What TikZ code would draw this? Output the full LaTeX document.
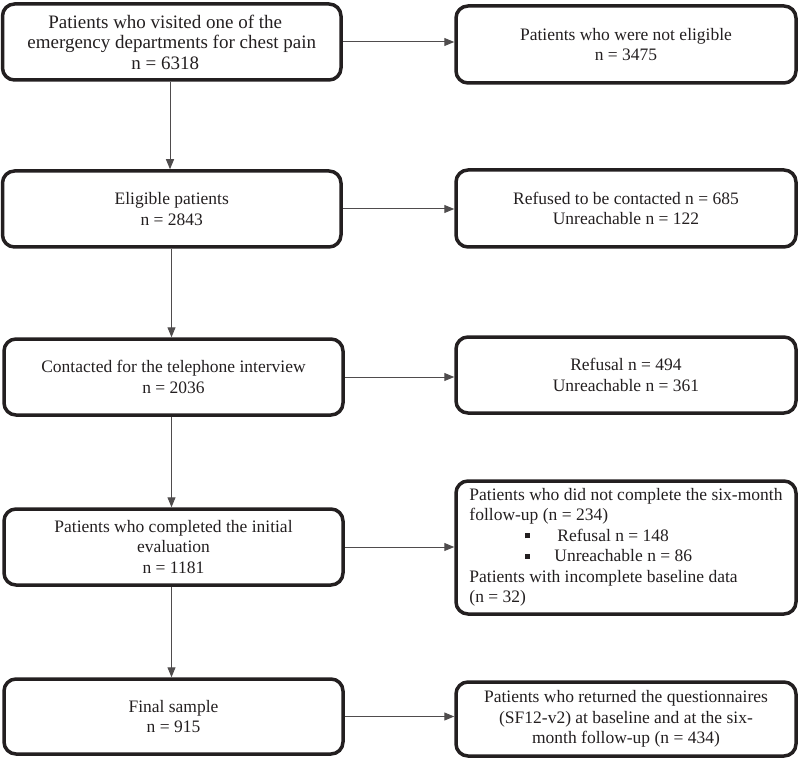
\documentclass[tikz,border=0pt]{standalone}
\usepackage{fontspec}
\setmainfont{Liberation Serif}
\usetikzlibrary{arrows.meta}
\definecolor{ink}{RGB}{35,31,32}
\tikzset{
  boxnode/.style={draw=ink, line width=3.5pt, rounded corners=12pt, align=center,
    inner sep=2pt, font=\fontsize{17.5}{20.5}\selectfont, text=ink},
  flowarrow/.style={draw=ink!80, line width=1pt, -{Triangle[length=10pt,width=8pt]}}
}
\begin{document}
\begin{tikzpicture}[x=1pt,y=-1pt]
\useasboundingbox (0,0) rectangle (800,759);
% left column
\node[boxnode, minimum width=338.5pt, minimum height=76pt, font=\fontsize{19}{20.5}\selectfont] (b1) at (171.75,42)
  {Patients who visited one of the\hspace*{13pt}\\emergency departments for chest pain\hspace*{13pt}\\n = 6318\hspace*{13pt}};
\node[boxnode, minimum width=338.5pt, minimum height=76pt] (b2) at (171.75,209)
  {Eligible patients\\n = 2843};
\node[boxnode, minimum width=339pt, minimum height=76pt] (b3) at (173.5,377)
  {Contacted for the telephone interview\\n = 2036};
\node[boxnode, minimum width=339pt, minimum height=76pt] (b4) at (173.5,547)
  {Patients who completed the initial\\evaluation\\n = 1181};
\node[boxnode, minimum width=339pt, minimum height=75pt] (b5) at (173.5,716.5)
  {Final sample\\n = 915};
% right column
\node[boxnode, minimum width=340pt, minimum height=77pt] (r1) at (626,44.5)
  {Patients who were not eligible\\n = 3475};
\node[boxnode, minimum width=340pt, minimum height=77pt] (r2) at (626,208.5)
  {Refused to be contacted n = 685\\Unreachable n = 122};
\node[boxnode, minimum width=340pt, minimum height=76pt] (r3) at (626,375)
  {Refusal n = 494\\Unreachable n = 361};
\node[boxnode, minimum width=340pt, minimum height=133pt] (r4) at (626,547.5) {};
\node[anchor=west, align=left, inner sep=0pt, font=\fontsize{17.5}{20.5}\selectfont, text=ink]
  (r4t) at ([xshift=15pt]r4.west)
  {Patients who did not complete the six-month\\
   follow-up (n = 234)\\
   \hspace*{56pt}\rule[3pt]{5pt}{5pt}\hspace{27pt}Refusal n = 148\\
   \hspace*{56pt}\rule[3pt]{5pt}{5pt}\hspace{24pt}Unreachable n = 86\\
   Patients with incomplete baseline data\\
   (n = 32)};
\node[boxnode, minimum width=340pt, minimum height=74pt] (r5) at (626,719)
  {Patients who returned the questionnaires\\(SF12-v2) at baseline and at the six-\\month follow-up (n = 434)};
% vertical arrows
\draw[flowarrow] ([xshift=-1.75pt]b1.south) -- ([xshift=-1.75pt]b1.south |- b2.north);
\draw[flowarrow] ([xshift=-0.25pt]b2.south) -- ([xshift=-0.25pt]b2.south |- b3.north);
\draw[flowarrow] ([xshift=-2pt]b3.south) -- ([xshift=-2pt]b3.south |- b4.north);
\draw[flowarrow] ([xshift=-2pt]b4.south) -- ([xshift=-2pt]b4.south |- b5.north);
% horizontal arrows
\draw[flowarrow] (b1.east) -- (b1.east -| r1.west);
\draw[flowarrow] (b2.east) -- (b2.east -| r2.west);
\draw[flowarrow] (b3.east) -- (b3.east -| r3.west);
\draw[flowarrow] (b4.east) -- (b4.east -| r4.west);
\draw[flowarrow] (b5.east) -- (b5.east -| r5.west);
\end{tikzpicture}
\end{document}
